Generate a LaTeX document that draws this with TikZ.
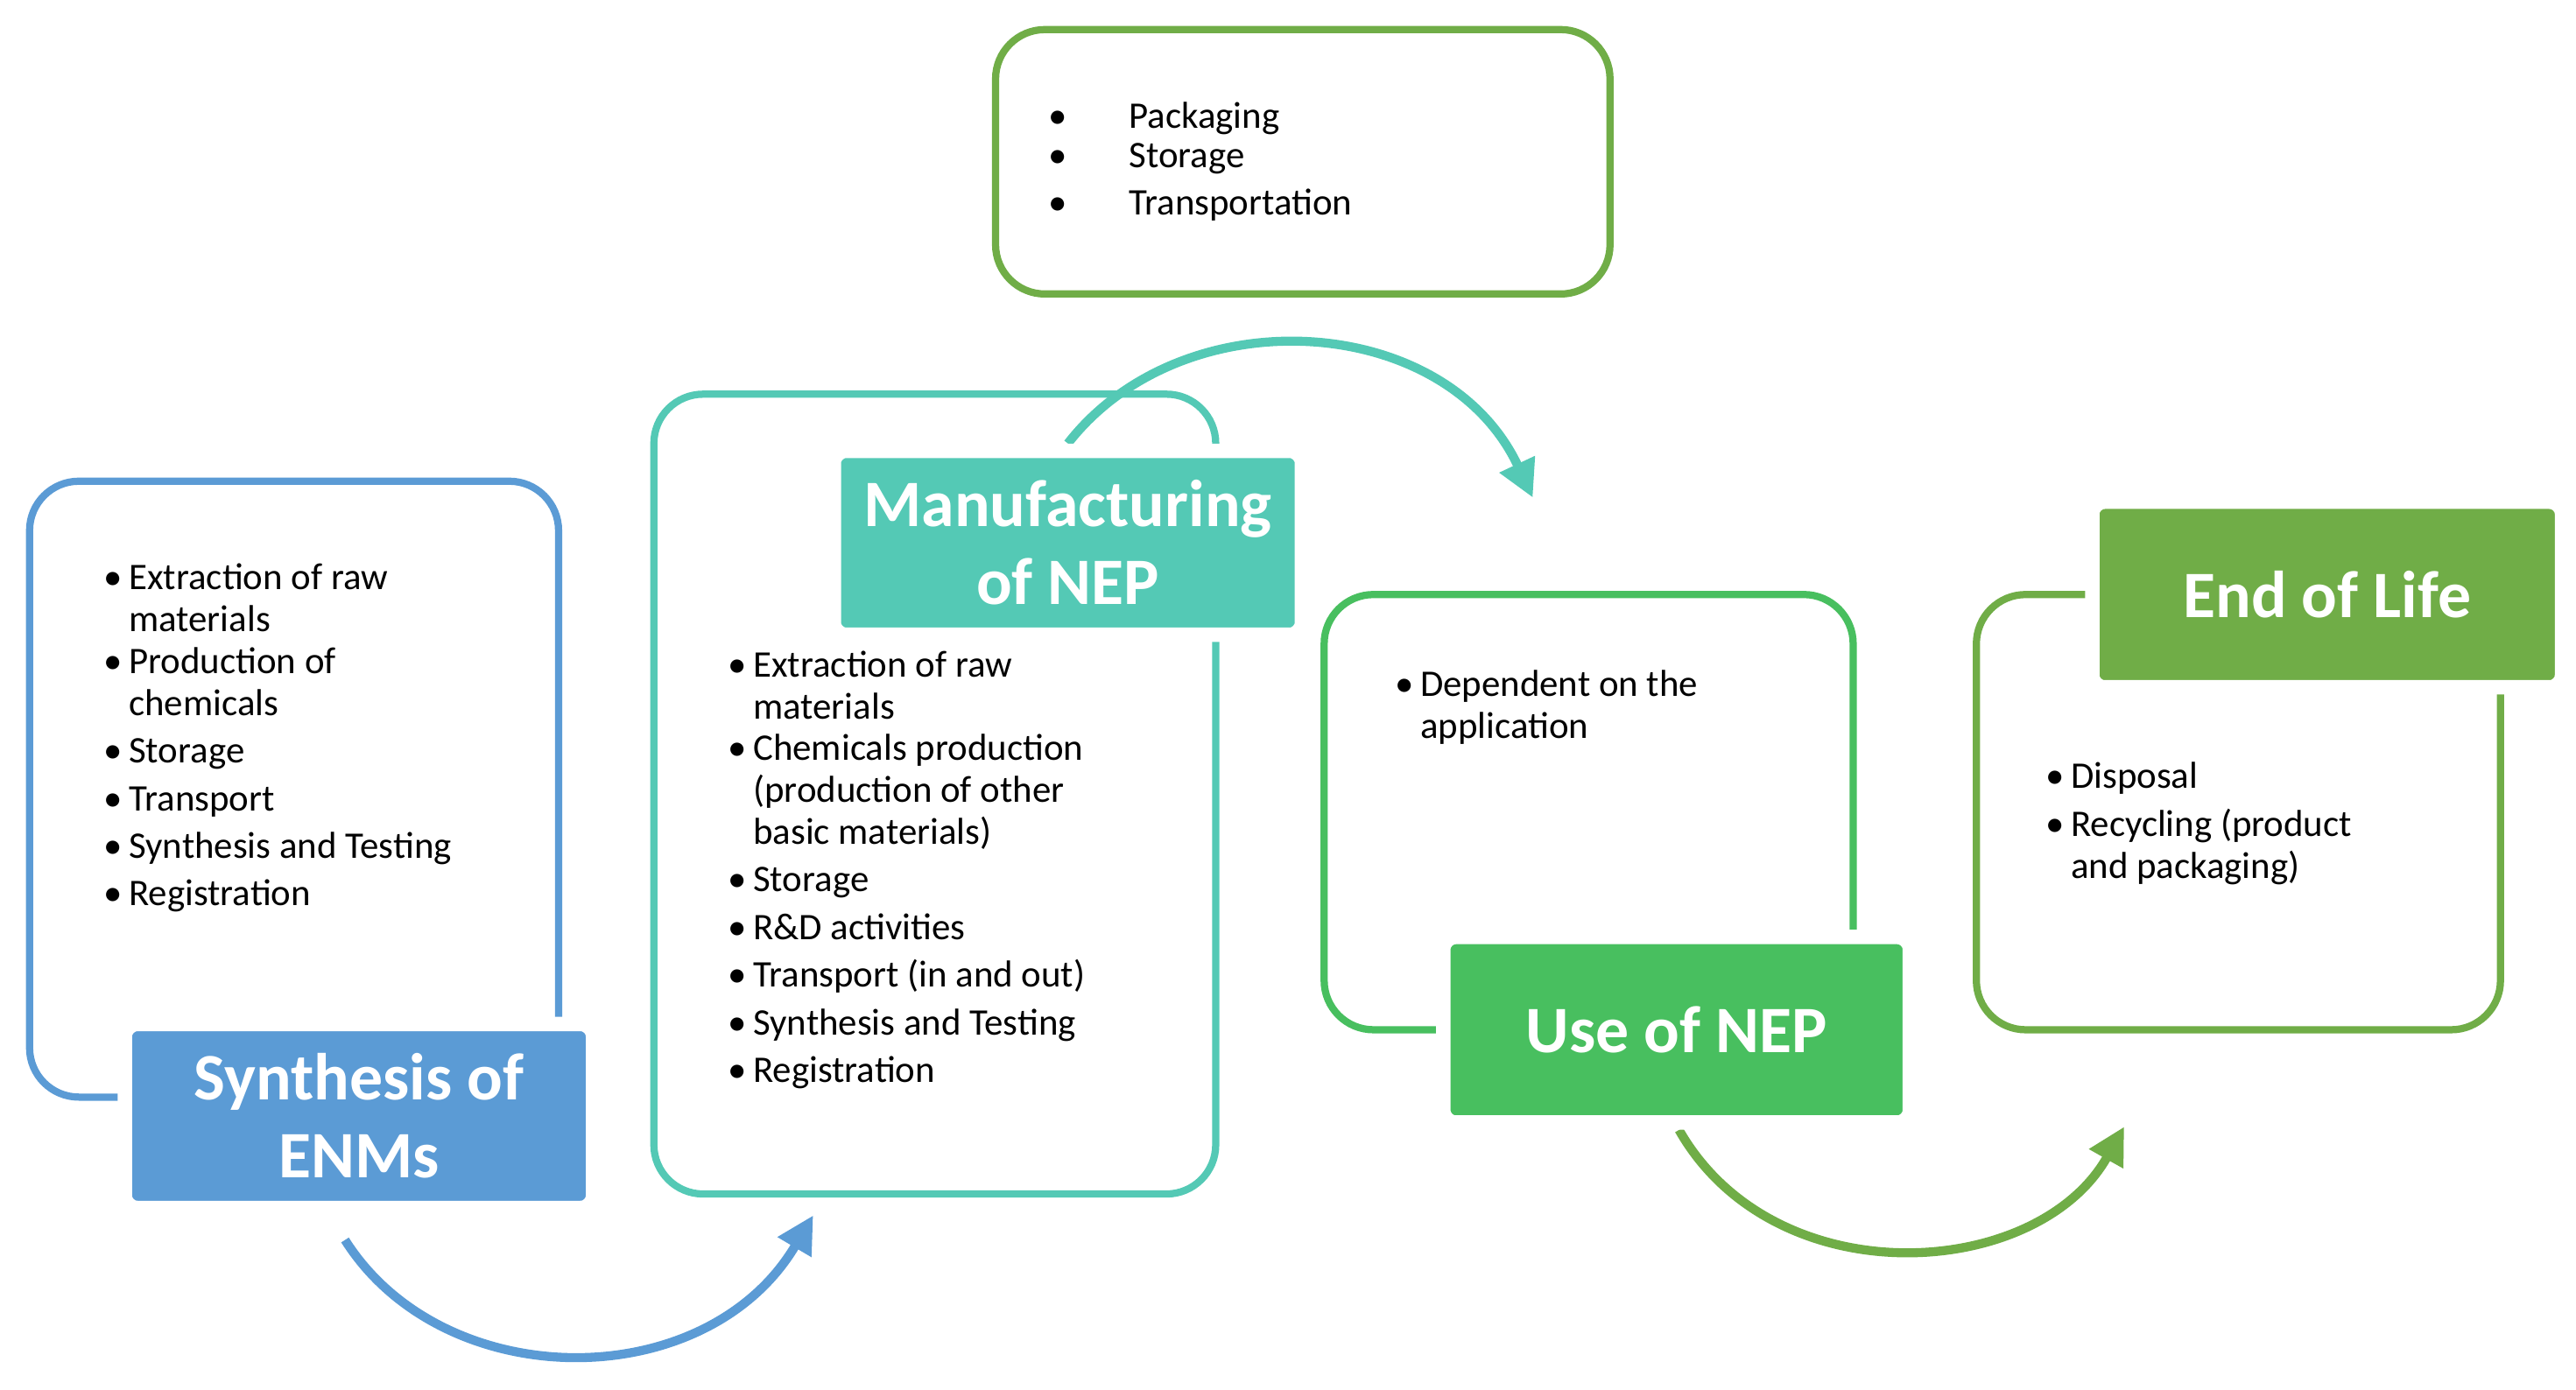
\documentclass[tikz,border=0pt]{standalone}
\usepackage{fontspec}
\setmainfont{Carlito}
\usetikzlibrary{arrows.meta}
\definecolor{cblue}{HTML}{5B9BD5}
\definecolor{cteal}{HTML}{54C9B5}
\definecolor{cgreen}{HTML}{48BF5F}
\definecolor{olive}{HTML}{70AD47}
\begin{document}
\begin{tikzpicture}[x=0.02cm,y=0.02cm,
  frame/.style={draw=#1,line width=2.5pt,rounded corners=0.6cm},
  title/.style={fill=#1,draw=white,line width=5pt,rounded corners=0.15cm,text=white,font=\fontsize{23}{27}\selectfont\bfseries,align=center,inner sep=0pt},
  lst/.style={anchor=north west,align=left,font=\fontsize{13}{14.5}\selectfont,inner sep=0pt},
  arc/.style={draw=#1,line width=0.11cm,-{Triangle[length=0.45cm,width=0.45cm]}}]
\useasboundingbox (0,0) rectangle (1568,-846);
% boxes
\draw[frame=cblue] (18,-293) rectangle (340,-668);
\draw[frame=cteal] (398,-240) rectangle (740,-727);
\draw[frame=olive] (606,-18) rectangle (980,-179);
\draw[frame=cgreen] (806,-362) rectangle (1128,-627);
\draw[frame=olive] (1203,-362) rectangle (1522,-627);
% arcs
\coordinate (a1) at (210,-755); \coordinate (b1) at (495,-740);
\coordinate (a2) at (650,-270); \coordinate (b2) at (933,-303);
\coordinate (a3) at (1022,-688); \coordinate (b3) at (1293,-686);
\draw[arc=cblue] (a1) .. controls (270,-850) and (430,-850) .. (b1);
\draw[arc=cteal] (a2) .. controls (720,-180) and (880,-190) .. (b2);
\draw[arc=olive] (a3) .. controls (1080,-790) and (1240,-780) .. (b3);
% titles
\node[title=cblue,minimum width=5.7cm,minimum height=2.24cm] (t1) at (218.5,-679.5) {Synthesis of\\ENMs};
\node[title=cteal,minimum width=5.7cm,minimum height=2.24cm] (t2) at (650,-330.5) {Manufacturing\\of NEP};
\node[title=cgreen,minimum width=5.68cm,minimum height=2.26cm] (t3) at (1020.5,-627) {Use of NEP};
\node[title=olive,minimum width=5.72cm,minimum height=2.26cm] (t4) at (1416.5,-362) {End of Life};
% lists
\node[lst] (l1) at (63,-341) {\begin{tabular}{@{}l@{\,}l}
\textbullet & Extraction of raw\\ & materials\\[0pt]
\textbullet & Production of\\ & chemicals\\[2pt]
\textbullet & Storage\\[2pt]
\textbullet & Transport\\[2pt]
\textbullet & Synthesis and Testing\\[2pt]
\textbullet & Registration
\end{tabular}};
\node[lst] (l2) at (443,-394) {\begin{tabular}{@{}l@{\,}l}
\textbullet & Extraction of raw\\ & materials\\[0pt]
\textbullet & Chemicals production\\ & (production of other\\ & basic materials)\\[2pt]
\textbullet & Storage\\[2pt]
\textbullet & R\&D activities\\[2pt]
\textbullet & Transport (in and out)\\[2pt]
\textbullet & Synthesis and Testing\\[2pt]
\textbullet & Registration
\end{tabular}};
\node[lst] (l3) at (638,-60) {\begin{tabular}{@{}l@{\hspace{0.75cm}}l}
\textbullet & Packaging\\[-1pt]
\textbullet & Storage\\[2pt]
\textbullet & Transportation
\end{tabular}};
\node[lst] (l4) at (849,-406) {\begin{tabular}{@{}l@{\,}l}
\textbullet & Dependent on the\\ & application
\end{tabular}};
\node[lst] (l5) at (1245,-462) {\begin{tabular}{@{}l@{\,}l}
\textbullet & Disposal\\[2pt]
\textbullet & Recycling (product\\ & and packaging)
\end{tabular}};
\end{tikzpicture}
\end{document}
